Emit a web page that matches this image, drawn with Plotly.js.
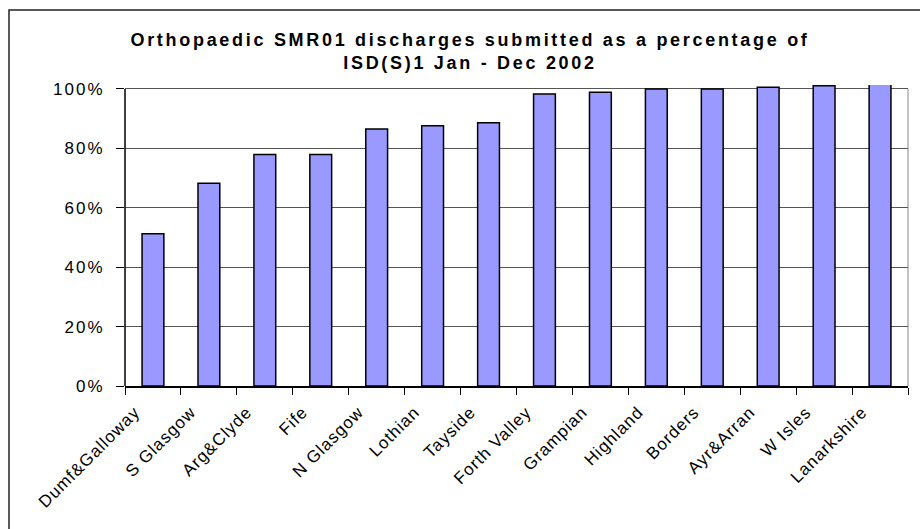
<!DOCTYPE html>
<html>
<head>
<meta charset="utf-8">
<script src="https://cdn.plot.ly/plotly-3.0.1.min.js"></script>
<style>
html,body{margin:0;padding:0;background:#fff;}
#chart{width:920px;height:529px;}
.gtitle{letter-spacing:2.7px;}
.ytick text{letter-spacing:2px;}
.xtick text{letter-spacing:1px;}
</style>
</head>
<body>
<div id="chart"></div>
<script>
const categories = ["Dumf&Galloway","S Glasgow","Arg&Clyde","Fife","N Glasgow","Lothian","Tayside","Forth Valley","Grampian","Highland","Borders","Ayr&Arran","W Isles","Lanarkshire"];
const percentSubmitted = [0.513,0.683,0.779,0.779,0.865,0.876,0.886,0.983,0.989,1.0,1.0,1.006,1.011,1.02];
const yTickValues = [0,0.2,0.4,0.6,0.8,1.0];
const yTickLabels = ["0%","20%","40%","60%","80%","100%"];
const titleText = "Orthopaedic SMR01 discharges submitted as a percentage of<br>ISD(S)1 Jan - Dec 2002";

const font = "Liberation Sans, Arial, sans-serif";
const yTop = 1.0134;
const plotH = 301.5, zeroPx = 386.5;
const data = [{
  type: "bar",
  x: categories,
  y: percentSubmitted,
  marker: {color: "#9999FF", line: {color: "#000000", width: 1.5}},
  hoverinfo: "none"
}];
const layout = {
  width: 920, height: 529,
  margin: {l: 125, r: 12, t: 85, b: 142.5},
  paper_bgcolor: "#ffffff", plot_bgcolor: "#ffffff",
  showlegend: false,
  bargap: 0.61,
  font: {family: font, color: "#000000", size: 16},
  title: {text: titleText, font: {family: font, size: 18, color: "#000000", weight: "bold"},
          x: 470/920, xref: "container", xanchor: "center", y: 1 - 46/529, yref: "container", yanchor: "middle"},
  xaxis: {
    type: "category",
    showline: true, linecolor: "#000000", linewidth: 1.5,
    ticks: "outside", ticklen: 7, tickcolor: "#000000", tickwidth: 1,
    tickson: "boundaries",
    tickangle: -45,
    ticklabelshift: -18,
    ticklabelstandoff: 8,
    tickfont: {family: font, size: 17, color: "#000000"},
    showgrid: false, zeroline: false
  },
  yaxis: {
    range: [0, yTop],
    tickvals: yTickValues, ticktext: yTickLabels,
    showline: false,
    ticks: "outside", ticklen: 8, tickcolor: "#000000", tickwidth: 1,
    ticklabelstandoff: 8,
    tickfont: {family: font, size: 17, color: "#000000"},
    showgrid: true, gridcolor: "#555555", gridwidth: 1,
    zeroline: false
  },
  shapes: [
    {type: "line", xref: "paper", yref: "y", x0: 1, x1: 1, y0: 0, y1: 1,
     line: {color: "#888888", width: 1}, layer: "below"},
    {type: "line", xref: "paper", yref: "y", x0: 0, x1: 0, y0: 0, y1: 1,
     line: {color: "#000000", width: 1.5}, layer: "above"},
    {type: "rect", xref: "paper", yref: "paper", x0: (9-125)/783, x1: (940-125)/783,
     y0: (zeroPx-545)/plotH, y1: (zeroPx-10)/plotH,
     line: {color: "#222222", width: 1.5}, layer: "below"}
  ]
};
Plotly.newPlot("chart", data, layout, {staticPlot: true, displayModeBar: false});
</script>
</body>
</html>
